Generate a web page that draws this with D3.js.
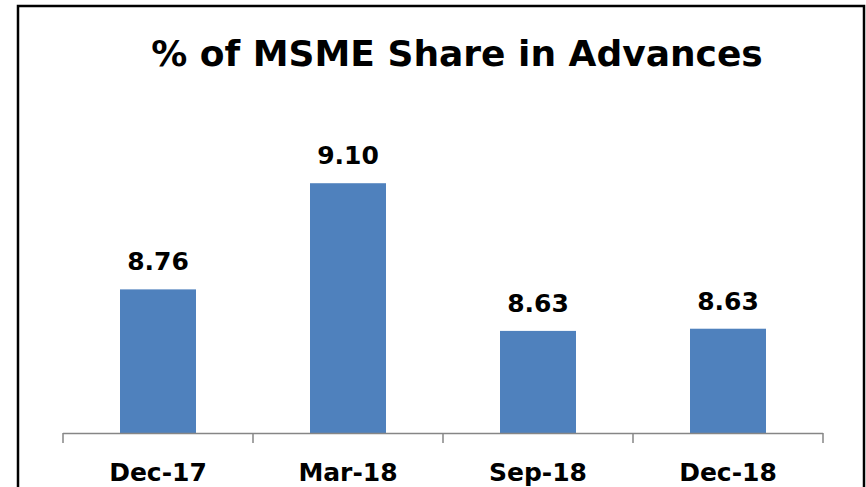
<!DOCTYPE html>
<html>
<head>
<meta charset="utf-8">
<script src="https://cdn.jsdelivr.net/npm/d3@7"></script>
<style>
  body { margin: 0; background: #fff; }
  svg text { font-family: "DejaVu Sans", sans-serif; font-weight: bold; fill: #000; }
</style>
</head>
<body>
<div class="chart"></div>
<script>
// chart data
const categories = ["Dec-17", "Mar-18", "Sep-18", "Dec-18"];
const shares = [8.76, 9.10, 8.627, 8.634];
const title = "% of MSME Share in Advances";

const w = 866;
const h = 487;
const left = 63, right = 823;
const baseY = 433, topY = 152;

const svg = d3.select(".chart")
  .append("svg")
  .attr("width", w)
  .attr("height", h);

// outer frame (bottom edge runs off the picture)
svg.append("rect")
  .attr("x", 18)
  .attr("y", 6)
  .attr("width", 846)
  .attr("height", 520)
  .attr("fill", "none")
  .attr("stroke", "#000")
  .attr("stroke-width", 2.5);

svg.append("text")
  .attr("x", 457)
  .attr("y", 66)
  .attr("text-anchor", "middle")
  .style("font-size", "36px")
  .text(title);

const xScale = d3.scaleBand()
  .domain(categories)
  .range([left, right])
  .paddingInner(0.6)
  .paddingOuter(0.3);

const yScale = d3.scaleLinear()
  .domain([8.3, 9.2])
  .range([baseY, topY]);

const data = categories.map((c, i) => ({cat: c, v: shares[i]}));

svg.selectAll("rect.bar")
  .data(data)
  .enter()
  .append("rect")
  .attr("class", "bar")
  .attr("x", (d) => xScale(d.cat))
  .attr("y", (d) => yScale(d.v))
  .attr("width", xScale.bandwidth())
  .attr("height", (d) => baseY - yScale(d.v))
  .attr("fill", "#4F81BD");

svg.selectAll("text.val")
  .data(data)
  .enter()
  .append("text")
  .attr("class", "val")
  .attr("x", (d) => xScale(d.cat) + xScale.bandwidth() / 2)
  .attr("y", (d) => yScale(d.v) - 19)
  .attr("text-anchor", "middle")
  .style("font-size", "25px")
  .text((d) => d.v.toFixed(2));

// category axis: line plus ticks on band boundaries
const step = xScale.step();
const axis = svg.append("g").attr("stroke", "#868686").attr("stroke-width", 1.5);
axis.append("line")
  .attr("x1", left).attr("x2", right)
  .attr("y1", baseY + 0.5).attr("y2", baseY + 0.5);
axis.selectAll("line.tick")
  .data(d3.range(categories.length + 1))
  .enter()
  .append("line")
  .attr("class", "tick")
  .attr("x1", (i) => left + i * step)
  .attr("x2", (i) => left + i * step)
  .attr("y1", baseY)
  .attr("y2", baseY + 10);

svg.selectAll("text.cat")
  .data(categories)
  .enter()
  .append("text")
  .attr("class", "cat")
  .attr("x", (d) => xScale(d) + xScale.bandwidth() / 2)
  .attr("y", 481)
  .attr("text-anchor", "middle")
  .style("font-size", "25px")
  .text((d) => d);
</script>
</body>
</html>
